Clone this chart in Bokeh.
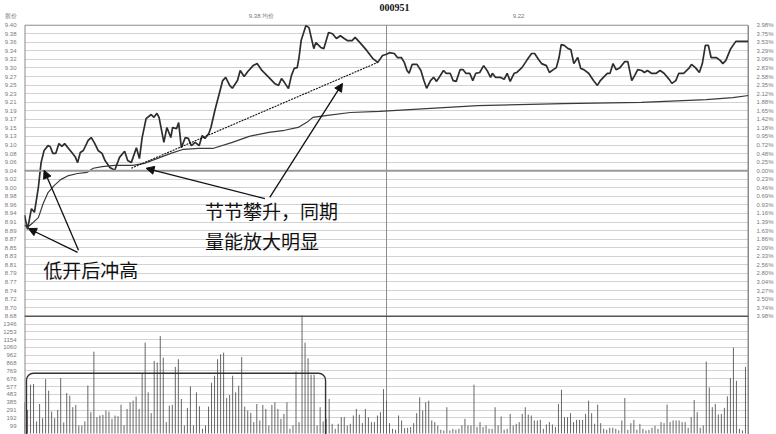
import numpy as np
from bokeh.plotting import figure
from bokeh.models import (Range1d, LinearAxis, FixedTicker, Span, Label, Arrow,
                          NormalHead, BoxAnnotation)
from bokeh.core.properties import value
from bokeh.embed import file_html
from bokeh.resources import INLINE

# ---------------- data ----------------
TITLE = "000951"
HEAD_LEFT = "股价"
HEAD_A = "9.38 均价"
HEAD_B = "9.22"

PRICE_TOP = 9.40
PRICE_BOT = 8.68
PRE_CLOSE = 9.04
VOL_TOP = 1442.0

PRICE_LABELS = ["9.40", "9.38", "9.36", "9.34", "9.32", "9.30", "9.27", "9.25", "9.23",
                "9.21", "9.19", "9.17", "9.15", "9.13", "9.10", "9.08", "9.06", "9.04",
                "9.02", "9.00", "8.98", "8.96", "8.94", "8.91", "8.89", "8.87", "8.85",
                "8.83", "8.81", "8.79", "8.77", "8.74", "8.72", "8.70", "8.68"]
PCT_LABELS = ["3.98%", "3.75%", "3.53%", "3.29%", "3.06%", "2.83%", "2.58%", "2.35%",
              "2.12%", "1.88%", "1.65%", "1.42%", "1.18%", "0.95%", "0.72%", "0.48%",
              "0.25%", "0.00%", "0.23%", "0.46%", "0.69%", "0.93%", "1.16%", "1.39%",
              "1.63%", "1.86%", "2.09%", "2.33%", "2.56%", "2.80%", "3.04%", "3.27%",
              "3.50%", "3.74%", "3.98%"]
VOL_LABELS = ["99", "192", "291", "385", "483", "577", "676", "769", "868", "962",
              "1060", "1154", "1253", "1346"]

price_min = [0, 1.0, 2.3, 3.3, 4.6, 5.5, 6.5, 7.8, 8.5, 9.4, 10.4, 11.4, 12.4, 13.3, 14.6,
             15.9, 16.9, 17.6, 18.5, 19.5, 21.1, 22.1, 23.1, 24.4, 25.7, 26.7, 28.3, 29.9,
             31.5, 33.2, 34.2, 35.4, 37.1, 38.1, 39.0, 40.3, 42.0, 42.9, 43.9, 44.6, 46.2,
             47.2, 48.5, 49.1, 50.4, 51.1, 52.0, 53.3, 54.3, 55.3, 56.6, 57.9, 58.9, 59.8,
             61.1, 61.8, 63.1, 64.4, 65.7, 66.7, 68.0, 68.9, 70.6, 71.5, 72.8, 74.1, 75.8,
             77.1, 78.7, 81.0, 82.9, 84.2, 85.2, 86.2, 87.5, 88.5, 89.4, 90.4, 91.0, 91.7,
             93.3, 94.3, 95.9, 96.6, 98.2, 99.2, 100.8, 102.1, 103.4, 104.7, 106.0, 107.0,
             108.6, 109.6, 111.2, 113.5, 115.4, 117.1, 118.7, 120.0, 121.0, 122.6, 123.6,
             124.9, 125.9, 126.8, 127.5, 128.5, 130.1, 131.4, 132.4, 133.3, 134.6, 135.6,
             136.6, 137.9, 138.9, 139.8, 141.1, 142.1, 143.1, 144.4, 145.4, 146.3, 147.6,
             148.6, 149.6, 150.9, 152.2, 153.5, 154.5, 155.1, 156.1, 157.7, 159.0, 160.0,
             161.0, 162.3, 163.2, 164.9, 166.5, 168.1, 169.1, 170.4, 171.4, 173.0, 174.0,
             175.3, 176.3, 177.2, 177.9, 178.9, 180.2, 181.1, 182.1, 183.4, 184.4, 185.4,
             187.0, 188.6, 189.9, 190.9, 191.9, 193.2, 194.1, 195.1, 196.1, 197.4, 199.0,
             200.0, 201.3, 202.3, 203.3, 204.6, 205.5, 206.5, 207.8, 209.4, 210.7, 212.0,
             213.7, 214.6, 215.9, 216.9, 218.5, 220.2, 221.1, 222.4, 223.7, 224.7, 225.7,
             226.7, 227.6, 229.3, 230.6, 231.5, 232.5, 234.1, 235.8, 237.4, 240.0]
price_val = [8.930, 8.895, 8.946, 8.937, 8.999, 9.060, 9.090, 9.102, 9.100, 9.083, 9.083,
             9.107, 9.100, 9.107, 9.095, 9.083, 9.073, 9.060, 9.085, 9.090, 9.115, 9.122,
             9.110, 9.090, 9.083, 9.065, 9.048, 9.041, 9.073, 9.088, 9.065, 9.060, 9.097,
             9.070, 9.122, 9.169, 9.179, 9.172, 9.182, 9.172, 9.110, 9.147, 9.122, 9.147,
             9.144, 9.159, 9.097, 9.122, 9.120, 9.102, 9.110, 9.102, 9.127, 9.120, 9.132,
             9.147, 9.189, 9.226, 9.263, 9.271, 9.251, 9.244, 9.263, 9.288, 9.273, 9.286,
             9.300, 9.305, 9.288, 9.271, 9.256, 9.251, 9.268, 9.258, 9.243, 9.276, 9.293,
             9.295, 9.320, 9.362, 9.399, 9.394, 9.342, 9.357, 9.345, 9.342, 9.382, 9.379,
             9.367, 9.374, 9.367, 9.362, 9.362, 9.370, 9.357, 9.337, 9.318, 9.308, 9.325,
             9.328, 9.332, 9.330, 9.320, 9.320, 9.308, 9.288, 9.281, 9.303, 9.303, 9.288,
             9.263, 9.244, 9.263, 9.271, 9.261, 9.276, 9.288, 9.281, 9.281, 9.263, 9.261,
             9.290, 9.290, 9.281, 9.281, 9.263, 9.281, 9.283, 9.300, 9.286, 9.271, 9.281,
             9.271, 9.271, 9.266, 9.281, 9.261, 9.281, 9.283, 9.295, 9.313, 9.330, 9.330,
             9.315, 9.305, 9.300, 9.283, 9.290, 9.295, 9.320, 9.352, 9.350, 9.342, 9.340,
             9.305, 9.320, 9.293, 9.290, 9.281, 9.263, 9.251, 9.263, 9.271, 9.281, 9.281,
             9.305, 9.290, 9.295, 9.310, 9.310, 9.263, 9.276, 9.290, 9.288, 9.283, 9.288,
             9.281, 9.281, 9.288, 9.281, 9.266, 9.256, 9.263, 9.281, 9.281, 9.293, 9.303,
             9.295, 9.283, 9.305, 9.350, 9.350, 9.320, 9.320, 9.313, 9.305, 9.313, 9.342,
             9.360, 9.360, 9.360]

avg_min = [0, 1.0, 2.9, 4.6, 6.2, 7.8, 9.8, 12.0, 14.6, 17.6, 20.8, 22.8, 25.7, 29.9, 35.8,
           39.7, 43.9, 48.5, 52.7, 57.6, 62.4, 68.9, 74.5, 81.0, 86.2, 90.7, 94.0, 95.6,
           100.5, 108.0, 117.7, 150.2, 178.5, 204.5, 226.0, 234.8, 240.0]
avg_val = [8.905, 8.900, 8.912, 8.924, 8.959, 8.986, 9.003, 9.018, 9.028, 9.033, 9.036,
           9.046, 9.050, 9.053, 9.053, 9.058, 9.070, 9.083, 9.093, 9.095, 9.095, 9.110,
           9.125, 9.135, 9.140, 9.147, 9.162, 9.172, 9.177, 9.184, 9.187, 9.201, 9.206,
           9.209, 9.216, 9.221, 9.226]

volume = [
    385, 290,
    600, 608, 148, 363, 189, 669, 526, 270, 189, 290,
    681, 136, 498, 465, 323, 351, 99, 99, 148, 591,
    262, 1006, 201, 221, 229, 282, 270, 180, 221, 213,
    355, 103, 302, 384, 404, 453, 302, 746, 1117, 506,
    250, 892, 872, 1198, 933, 140, 343, 351, 819, 913,
    424, 99, 315, 579, 99, 506, 335, 58, 99, 331,
    624, 710, 913, 974, 994, 437, 473, 710, 506, 587,
    941, 331, 282, 254, 140, 363, 160, 351, 302, 99,
    351, 384, 302, 180, 241, 384, 58, 99, 762, 140,
    1450, 1117, 925, 722, 722, 99, 323, 148, 180, 424,
    119, 58, 119, 201, 201, 99, 119, 221, 302, 233,
    128, 302, 201, 140, 140, 221, 262, 546, 404,
    127, 58, 46, 221, 160, 66, 70, 79, 127, 250,
    445, 282, 384, 404, 160, 140, 99, 46, 38, 323,
    38, 58, 46, 58, 99, 180, 99, 99, 600, 79,
    140, 79, 99, 58, 58, 323, 99, 209, 46, 58,
    241, 99, 119, 140, 241, 323, 233, 221, 160, 160,
    168, 58, 111, 140, 111, 79, 363, 538, 201, 201,
    250, 140, 168, 168, 168, 241, 404, 250, 119, 355,
    127, 58, 46, 70, 70, 58, 38, 160, 437, 46,
    127, 168, 46, 119, 58, 38, 46, 70, 95, 58,
    140, 127, 355, 140, 160, 160, 160, 140, 140, 70,
    201, 412, 262, 70, 99, 884, 567, 323, 363, 233,
    241, 315, 457, 681, 1055, 648, 58, 38, 819,
    58,
]
vol_min = list(range(len(volume)))

trend_min = [35.4, 117.1]
trend_val = [9.046, 9.308]

arrow_x0 = [17.6, 17.9, 79.7, 81.3]
arrow_y0 = [8.838, 8.843, 8.971, 8.974]
arrow_x1 = [1.3, 6.5, 40.3, 105.4]
arrow_y1 = [8.897, 9.041, 9.046, 9.256]

note_text = ["低开后冲高", "节节攀升，同期", "量能放大明显"]
note_x = [6.2, 59.8, 59.8]
note_y = [8.796, 8.942, 8.867]

box_left, box_right, box_top = 0.65, 99.8, 740

# ---------------- layout ----------------
W, H = 776, 434
ML, MR = 18, 20
Y_TOP_PX = 24.7      # pixel row of PRICE_TOP
Y_BOT_PX = 315.7     # pixel row of PRICE_BOT (price / volume divider)
Y_ZERO_PX = 433.0    # pixel row of zero volume
HEAD_PX = 15.0       # pixel row of the small header texts

price_per_px = (PRICE_TOP - PRICE_BOT) / (Y_BOT_PX - Y_TOP_PX)
y_end = PRICE_TOP + Y_TOP_PX * price_per_px
y_start = PRICE_BOT - (H - Y_BOT_PX) * price_per_px
vol_per_px = VOL_TOP / (Y_ZERO_PX - Y_BOT_PX)
vol_start = -(H - Y_ZERO_PX) * vol_per_px
vol_end = VOL_TOP + Y_BOT_PX * vol_per_px

price_ticks = [float(v) for v in np.linspace(PRICE_TOP, PRICE_BOT, len(PRICE_LABELS))]
vol_ticks = [VOL_TOP * k / 15 for k in range(1, 15)]
vol_ticks_p = [float(PRICE_BOT - (VOL_TOP - v) / vol_per_px * price_per_px) for v in vol_ticks]
head_tick = float(PRICE_TOP + (Y_TOP_PX - HEAD_PX) * price_per_px)

left_overrides = {t: s for t, s in zip(price_ticks, PRICE_LABELS)}
left_overrides.update({t: s for t, s in zip(vol_ticks_p, VOL_LABELS)})
left_overrides[head_tick] = HEAD_LEFT
right_overrides = {t: s for t, s in zip(price_ticks, PCT_LABELS)}

p = figure(width=W, height=H, x_range=Range1d(0, 240), y_range=Range1d(y_start, y_end),
           output_backend="svg", toolbar_location=None, x_axis_location=None,
           min_border_left=ML, min_border_right=MR, min_border_top=0, min_border_bottom=0)
p.extra_y_ranges = {"vol": Range1d(vol_start, vol_end)}
p.outline_line_color = None
p.background_fill_color = "white"
p.border_fill_color = "white"

grid_ticker = FixedTicker(ticks=price_ticks + vol_ticks_p)
ax = p.yaxis[0]
ax.ticker = FixedTicker(ticks=price_ticks + vol_ticks_p + [head_tick])
ax.major_label_overrides = left_overrides
ax.axis_line_color = None

right = LinearAxis(ticker=FixedTicker(ticks=price_ticks), major_label_overrides=right_overrides,
                   bounds=(y_start, PRICE_TOP))
p.add_layout(right, "right")
right.axis_line_color = "#8a8a8a"

for a in [ax, right]:
    a.major_tick_line_color = None
    a.minor_tick_line_color = None
    a.major_label_standoff = 2
    a.major_label_text_font = "Liberation Sans"
    a.major_label_text_font_size = "6px"
    a.major_label_text_color = "#7a7a7a"

p.ygrid.ticker = grid_ticker
p.ygrid.grid_line_color = "#d2d2d2"
p.ygrid.grid_line_width = 1
p.xgrid.visible = False

# frame borders
p.segment(x0=[0, 240], y0=[y_start, y_start], x1=[0, 240], y1=[PRICE_TOP, PRICE_TOP],
          line_color="#8a8a8a", line_width=2)
p.segment(x0=[0], y0=[PRICE_TOP], x1=[240], y1=[PRICE_TOP], line_color="#9a9a9a", line_width=1)
p.add_layout(Span(location=PRE_CLOSE, dimension="width", line_color="#9a9a9a", line_width=2))
p.add_layout(Span(location=PRICE_BOT, dimension="width", line_color="#555555", line_width=1.5))
p.segment(x0=[120], y0=[y_start], x1=[120], y1=[PRICE_TOP], line_color="#8c8c8c", line_width=1)

# volume bars
p.segment(x0=vol_min, y0=[0] * len(volume), x1=vol_min, y1=volume, y_range_name="vol",
          line_color="#666666", line_width=1)

p.add_layout(BoxAnnotation(left=box_left, right=box_right, top=box_top, bottom=-400,
                           y_range_name="vol", fill_alpha=0, line_alpha=1.0,
                           line_color="#333333", line_width=1.4, border_radius=7))

# price / average / trend
p.line(avg_min, avg_val, line_color="#3a3a3a", line_width=1.2)
p.line(price_min, price_val, line_color="#2e2e2e", line_width=1.7)
p.line(trend_min, trend_val, line_color="#111111", line_width=1.1, line_dash="2 1")

for x0, y0, x1, y1 in zip(arrow_x0, arrow_y0, arrow_x1, arrow_y1):
    p.add_layout(Arrow(end=NormalHead(size=8, fill_color="#111111", line_color="#111111"),
                       x_start=x0, y_start=y0, x_end=x1, y_end=y1,
                       line_color="#111111", line_width=1.3))

p.text(x=note_x, y=note_y, text=note_text, text_font=value("Noto Sans CJK SC"),
       text_font_size="19px", text_baseline="middle", text_align="left", text_color="#111111")

# header (screen units, measured from the frame's bottom-left corner)
p.add_layout(Label(x=388 - ML, y=H - 7, x_units="screen", y_units="screen", text=TITLE,
                   text_font="Liberation Serif", text_font_style="bold", text_font_size="10px",
                   text_align="center", text_baseline="middle", text_color="#111111"))
p.add_layout(Label(x=255 - ML, y=H - HEAD_PX, x_units="screen", y_units="screen", text=HEAD_A,
                   text_font="Liberation Sans", text_font_size="6px", text_align="center",
                   text_baseline="middle", text_color="#777777"))
p.add_layout(Label(x=512 - ML, y=H - HEAD_PX, x_units="screen", y_units="screen", text=HEAD_B,
                   text_font="Liberation Sans", text_font_size="6px", text_align="center",
                   text_baseline="middle", text_color="#777777"))

open("out.html", "w").write(file_html(p, INLINE))
